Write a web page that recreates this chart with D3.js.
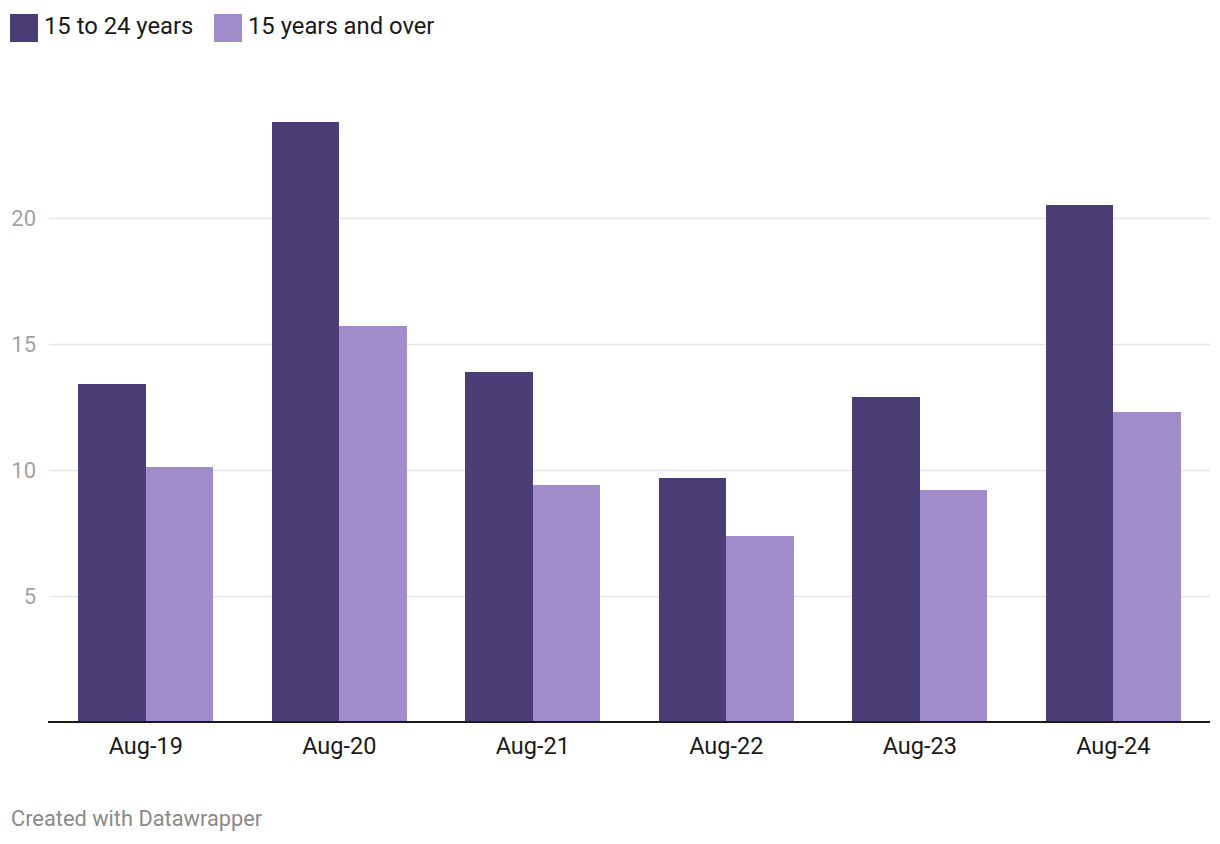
<!DOCTYPE html>
<html>
<head>
<meta charset="utf-8">
<script src="https://cdn.jsdelivr.net/npm/d3@7"></script>
<style>
html,body{margin:0;padding:0;background:#fff;}
svg{display:block;font-family:Roboto,"Noto Sans",sans-serif;}
</style>
</head>
<body>
<svg id="chart" width="1220" height="844"></svg>
<script>
const categories = ["Aug-19","Aug-20","Aug-21","Aug-22","Aug-23","Aug-24"];
const seriesNames = ["15 to 24 years","15 years and over"];
const youth = [13.4, 23.8, 13.9, 9.7, 12.9, 20.5];
const allAges = [10.1, 15.7, 9.4, 7.4, 9.2, 12.3];
const yTicks = [5, 10, 15, 20];
const colors = ["#4b3d75", "#a08bcb"];

(function () {
const svg = d3.select("#chart");
const mLeft = 49, mRight = 1210, mBottom = 722;

const x0 = d3.scaleBand().domain(categories).range([mLeft, mRight]).paddingInner(0.3).paddingOuter(0.15);
const x1 = d3.scaleBand().domain(seriesNames).range([0, x0.bandwidth()]);
const y = d3.scaleLinear().domain([0, 25]).range([mBottom, mBottom - 25*25.2]);

// grid
const grid = svg.append("g")
  .attr("transform", `translate(${mLeft},0)`)
  .call(d3.axisLeft(y).tickValues(yTicks).tickSize(-(mRight-mLeft)).tickFormat(d3.format("d")));
grid.select(".domain").remove();
grid.selectAll(".tick line").attr("stroke", "#e5e5e5").attr("stroke-width", 1.5);
grid.selectAll(".tick text").attr("x", -13).attr("fill", "#a3a3a3").attr("font-size", 22).attr("font-family", "Roboto").attr("dy", "0.36em");

// bars
const data = categories.map((c, i) => ({c, vals: [youth[i], allAges[i]]}));
const groups = svg.append("g").selectAll("g").data(data).join("g")
  .attr("transform", d => `translate(${x0(d.c)},0)`);
groups.selectAll("rect").data(d => d.vals.map((v, j) => ({k: seriesNames[j], v, j}))).join("rect")
  .attr("x", d => x1(d.k))
  .attr("width", x1.bandwidth() + (d => 0)(0))
  .attr("y", d => y(d.v))
  .attr("height", d => y(0) - y(d.v))
  .attr("fill", d => colors[d.j])
  .attr("shape-rendering", "crispEdges");

// x axis
const xa = svg.append("g").attr("transform", `translate(0,${mBottom})`)
  .call(d3.axisBottom(x0).tickSize(0).tickPadding(0));
xa.select(".domain").attr("stroke", "#1a1a1a").attr("stroke-width", 2).attr("d", `M${mLeft - 1},0H${mRight}`);
xa.selectAll(".tick text").attr("y", 32).attr("dy", 0).attr("fill", "#1a1a1a").attr("font-size", 23.5).attr("font-family", "Roboto");

// legend
const lg = svg.append("g");
const legX = [10, 214];
seriesNames.forEach((n, i) => {
  lg.append("rect").attr("x", legX[i]).attr("y", 14).attr("width", 28).attr("height", 28).attr("fill", colors[i]);
  lg.append("text").attr("x", legX[i] + 34).attr("y", 34).attr("font-size", 23.8).attr("fill", "#1a1a1a").text(n);
});

// footer
svg.append("text").attr("x", 11).attr("y", 826).attr("font-size", 21.8).attr("fill", "#8a8a8a").text("Created with Datawrapper");
})();
</script>
</body>
</html>
